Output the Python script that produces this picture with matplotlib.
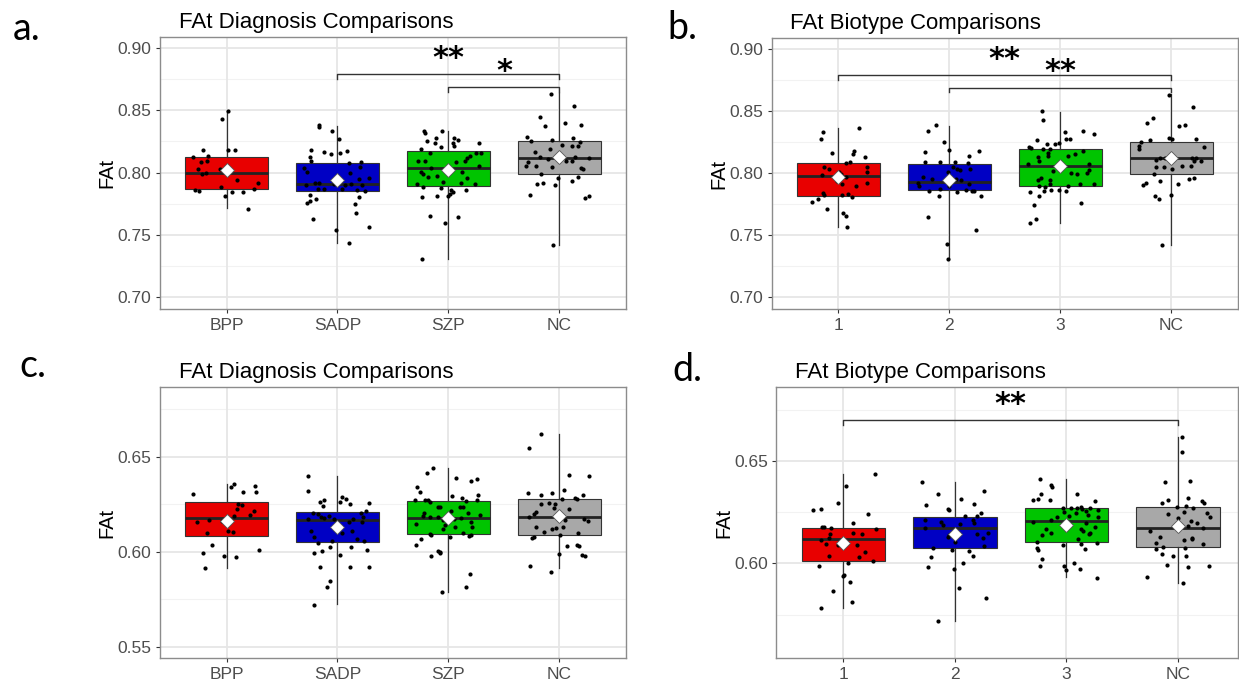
import matplotlib.pyplot as plt
import numpy as np

plt.rcParams['font.family'] = ['Liberation Sans', 'DejaVu Sans']

diag_cats = ['BPP', 'SADP', 'SZP', 'NC']
bio_cats = ['1', '2', '3', 'NC']
box_colors = ['#E80000', '#0000C4', '#00C400', '#A8A8A8']

# ---------------------------------------------------------------- panel a
a_q1 = [0.7866, 0.7852, 0.7895, 0.7992]
a_med = [0.7997, 0.7909, 0.8038, 0.8118]
a_q3 = [0.8126, 0.8078, 0.8175, 0.8253]
a_lo = [0.7715, 0.7433, 0.7304, 0.7419]
a_hi = [0.8497, 0.8376, 0.8336, 0.8637]
a_mean = [0.8022, 0.7938, 0.8022, 0.8124]

a_bpp_y = [0.8497, 0.8427, 0.8185, 0.818, 0.818, 0.8124, 0.8137, 0.8081, 0.8091, 0.8027,
           0.7992, 0.7997, 0.8027, 0.7941, 0.7919, 0.7863, 0.7852, 0.7884, 0.7847, 0.7847,
           0.7866, 0.7815, 0.7710]
a_bpp_jit = [0.015, -0.045, -0.21, 0.01, 0.08, -0.30, -0.17, -0.23, -0.18, -0.26,
             -0.22, -0.185, -0.055, 0.09, 0.28, -0.285, -0.25, -0.05, 0.05, 0.15,
             0.25, -0.015, 0.19]
a_sadp_y = [0.8379, 0.8366, 0.8336, 0.8272, 0.818, 0.8167, 0.8151, 0.8156, 0.8172, 0.8129,
            0.8091, 0.8078, 0.8081, 0.8035, 0.8046, 0.8005, 0.7997, 0.7949, 0.7957, 0.7901,
            0.7919, 0.7917, 0.7868, 0.7868, 0.7906, 0.7871, 0.7898, 0.7906, 0.7858, 0.7898,
            0.7852, 0.7804, 0.7817, 0.7758, 0.7769, 0.7790, 0.7745, 0.7677, 0.7626, 0.7559,
            0.7540, 0.7433]
a_sadp_jit = [-0.17, -0.17, -0.045, 0.015, -0.235, -0.12, -0.055, 0.025, 0.085, -0.25,
              -0.24, 0.105, 0.215, -0.30, 0.20, -0.275, 0.114, 0.195, 0.28, -0.285,
              -0.2, -0.165, -0.125, -0.18, -0.03, 0.045, 0.07, 0.12, 0.18, 0.22,
              0.245, 0.195, -0.25, -0.275, -0.25, -0.19, 0.16, 0.165, -0.225, 0.28,
              -0.01, 0.1]
a_szp_y = [0.8336, 0.8320, 0.8333, 0.8274, 0.8253, 0.8234, 0.8274, 0.8263, 0.8234, 0.8212,
           0.8202, 0.8239, 0.8191, 0.8159, 0.8159, 0.8159, 0.8134, 0.8113, 0.8089, 0.8089,
           0.8094, 0.8081, 0.8051, 0.8040, 0.8005, 0.7992, 0.7970, 0.7965, 0.7925, 0.7997,
           0.8008, 0.7952, 0.7917, 0.7911, 0.7911, 0.7884, 0.7874, 0.7858, 0.7844, 0.7831,
           0.7809, 0.7863, 0.7815, 0.7806, 0.7653, 0.7645, 0.7597, 0.7304]
a_szp_jit = [-0.22, -0.21, -0.06, -0.11, -0.19, -0.125, 0.05, 0.09, 0.045, 0.05,
             -0.07, 0.275, -0.25, -0.165, 0.25, 0.29, 0.19, 0.165, -0.27, -0.21,
             0.15, 0.065, 0.28, -0.16, -0.245, -0.23, -0.105, -0.185, -0.05, -0.005,
             0.12, 0.165, 0.11, 0.24, -0.28, -0.23, -0.07, 0.025, 0.045, 0.01,
             0.0, 0.16, -0.1, -0.235, -0.17, 0.085, -0.035, -0.235]
a_nc_y = [0.8632, 0.8535, 0.8449, 0.8376, 0.8398, 0.8384, 0.8282, 0.8253, 0.8261, 0.8280,
          0.8220, 0.8169, 0.8212, 0.8212, 0.8242, 0.8191, 0.8121, 0.8105, 0.8086, 0.8054,
          0.8054, 0.8043, 0.8094, 0.8094, 0.8126, 0.8040, 0.8118, 0.8027, 0.7992, 0.7960,
          0.7935, 0.7952, 0.7909, 0.7917, 0.7901, 0.7820, 0.7796, 0.7812, 0.7419]
a_nc_jit = [-0.075, 0.135, -0.175, -0.13, 0.055, 0.195, -0.29, -0.26, -0.07, 0.12,
            0.02, -0.22, 0.115, 0.17, 0.19, -0.08, -0.175, -0.1, -0.28, -0.3,
            -0.21, -0.07, 0.06, 0.115, 0.145, 0.195, 0.27, 0.21, -0.17, 0.17,
            0.11, -0.015, -0.205, -0.15, -0.04, -0.265, 0.235, 0.265, -0.06]

# ---------------------------------------------------------------- panel b
b_q1 = [0.7812, 0.7858, 0.7892, 0.7989]
b_med = [0.7970, 0.7925, 0.8054, 0.8116]
b_q3 = [0.8081, 0.8070, 0.8191, 0.8247]
b_lo = [0.7559, 0.7301, 0.7594, 0.7419]
b_hi = [0.8363, 0.8376, 0.8489, 0.8637]
b_mean = [0.7962, 0.7944, 0.8051, 0.8118]

b_g1_y = [0.8363, 0.8325, 0.8274, 0.8156, 0.8177, 0.8153, 0.8124, 0.8081, 0.8089, 0.8043,
          0.8030, 0.8048, 0.8003, 0.8005, 0.7989, 0.7981, 0.7962, 0.7935, 0.7909, 0.7919,
          0.7892, 0.7839, 0.7823, 0.7820, 0.7828, 0.7804, 0.7788, 0.7766, 0.7710, 0.7675,
          0.7651, 0.7559]
b_g1_jit = [0.19, -0.14, -0.16, -0.055, 0.145, 0.135, 0.24, 0.07, 0.11, -0.125,
            -0.08, 0.26, 0.26, 0.005, 0.025, -0.15, 0.07, -0.015, 0.035, 0.26,
            0.16, -0.135, -0.13, 0.035, 0.085, 0.12, -0.18, -0.235, -0.105, 0.045,
            0.07, 0.08]
b_g2_y = [0.8382, 0.8336, 0.8250, 0.8180, 0.8164, 0.8175, 0.8089, 0.8089, 0.8083, 0.8132,
          0.8078, 0.8046, 0.8030, 0.8024, 0.8032, 0.8005, 0.7965, 0.7946, 0.7919, 0.7946,
          0.7938, 0.7911, 0.7895, 0.7855, 0.7871, 0.7890, 0.7844, 0.7863, 0.7852, 0.7849,
          0.7815, 0.7812, 0.7642, 0.7540, 0.7427, 0.7301]
b_g2_jit = [-0.12, -0.19, -0.05, -0.005, -0.215, 0.265, -0.22, -0.085, 0.05, 0.18,
            0.17, 0.03, 0.065, 0.095, 0.185, -0.015, -0.24, -0.16, -0.28, 0.06,
            0.105, 0.175, -0.27, -0.185, -0.085, 0.0, 0.07, 0.15, 0.2, 0.225,
            0.285, -0.09, -0.195, 0.24, -0.025, -0.01]
b_g3_y = [0.8497, 0.8427, 0.8328, 0.8333, 0.8315, 0.8269, 0.8269, 0.8261, 0.8234, 0.8234,
          0.8239, 0.8207, 0.8202, 0.8188, 0.8188, 0.8172, 0.8156, 0.8153, 0.8126, 0.8132,
          0.8137, 0.8091, 0.8067, 0.8067, 0.8013, 0.7997, 0.7989, 0.7997, 0.8024, 0.7954,
          0.7944, 0.7938, 0.7911, 0.7909, 0.7909, 0.7890, 0.7887, 0.7895, 0.7852, 0.7863,
          0.7858, 0.7849, 0.7844, 0.7812, 0.7742, 0.7753, 0.7624, 0.7594]
b_g3_jit = [-0.165, -0.16, 0.04, 0.2, 0.3, 0.05, 0.085, -0.21, -0.12, -0.045,
            -0.01, -0.28, -0.265, -0.155, -0.09, 0.2, -0.11, 0.13, -0.2, -0.11,
            0.065, -0.19, -0.295, 0.26, -0.07, 0.1, 0.15, 0.24, 0.255, -0.175,
            -0.2, -0.09, -0.09, 0.175, 0.3, -0.19, -0.14, 0.065, -0.15, -0.085,
            -0.015, 0.05, -0.275, -0.19, -0.235, 0.19, -0.215, -0.27]
b_nc_y = [0.8629, 0.8532, 0.8441, 0.8398, 0.8374, 0.8382, 0.8277, 0.8274, 0.8274, 0.8250,
          0.8261, 0.8215, 0.8194, 0.8207, 0.8116, 0.8116, 0.8105, 0.8116, 0.8121, 0.8091,
          0.8097, 0.8046, 0.8048, 0.8030, 0.8054, 0.8054, 0.7987, 0.7946, 0.7954, 0.7933,
          0.7914, 0.7898, 0.7906, 0.7812, 0.7790, 0.7820, 0.7417]
b_nc_jit = [-0.02, 0.195, -0.17, -0.22, 0.07, 0.125, -0.025, 0.01, 0.225, -0.275,
            -0.19, -0.29, -0.295, 0.29, -0.1, -0.06, -0.135, 0.19, 0.225, 0.27,
            0.2, -0.135, -0.065, 0.01, 0.1, 0.175, -0.16, 0.16, 0.2, -0.1,
            -0.225, -0.255, 0.06, -0.15, -0.11, -0.005, -0.085]

# ---------------------------------------------------------------- panel c
c_q1 = [0.6081, 0.6049, 0.6095, 0.6086]
c_med = [0.6177, 0.6167, 0.6179, 0.6181]
c_q3 = [0.6263, 0.6211, 0.6267, 0.6279]
c_lo = [0.5912, 0.5725, 0.5788, 0.5912]
c_hi = [0.6354, 0.6400, 0.6439, 0.6619]
c_mean = [0.6163, 0.6130, 0.6175, 0.6189]

c_bpp_y = [0.6356, 0.6340, 0.6346, 0.6314, 0.6305, 0.6312, 0.6249, 0.6247, 0.6225, 0.6212,
           0.6195, 0.6186, 0.6158, 0.6168, 0.6160, 0.6107, 0.6102, 0.6096, 0.6033, 0.6009,
           0.5991, 0.5979, 0.5974, 0.5912]
c_bpp_jit = [0.07, 0.04, 0.255, 0.265, -0.3, 0.15, 0.1, 0.14, 0.09, 0.25,
             0.21, 0.07, -0.265, -0.16, -0.04, 0.015, 0.055, -0.175, -0.135, 0.29,
             -0.21, -0.025, 0.085, -0.19]
c_sadp_y = [0.6400, 0.6319, 0.6289, 0.6277, 0.6272, 0.6263, 0.6242, 0.6263, 0.6249, 0.6256,
            0.6202, 0.6198, 0.6189, 0.6205, 0.6184, 0.6216, 0.6184, 0.6179, 0.6172, 0.6170,
            0.6170, 0.6154, 0.6158, 0.6109, 0.6109, 0.6096, 0.6065, 0.6058, 0.6079, 0.6048,
            0.6056, 0.6026, 0.6025, 0.6002, 0.6011, 0.5995, 0.5982, 0.5920, 0.5918, 0.5918,
            0.5846, 0.5813, 0.5721]
c_sadp_jit = [-0.27, -0.265, 0.04, 0.08, -0.125, -0.16, -0.13, 0.025, 0.115, 0.28,
              -0.22, -0.175, -0.08, 0.21, 0.23, 0.26, -0.15, -0.125, -0.27, -0.03,
              0.14, 0.22, 0.1, -0.235, 0.135, 0.045, 0.18, 0.235, -0.215, -0.175,
              -0.05, -0.07, 0.125, -0.135, 0.27, -0.21, 0.025, -0.16, 0.11, 0.28,
              -0.065, -0.095, -0.215]
c_szp_y = [0.6440, 0.6416, 0.6388, 0.6374, 0.6381, 0.6342, 0.6314, 0.6293, 0.6298, 0.6274,
           0.6272, 0.6261, 0.6272, 0.6282, 0.6265, 0.6272, 0.6235, 0.6235, 0.6216, 0.6233,
           0.6233, 0.6205, 0.6205, 0.6188, 0.6184, 0.6181, 0.6167, 0.6170, 0.6175, 0.6193,
           0.6146, 0.6140, 0.6132, 0.6119, 0.6154, 0.6128, 0.6093, 0.6086, 0.6079, 0.6096,
           0.6082, 0.6088, 0.6065, 0.6037, 0.6005, 0.5991, 0.6000, 0.5979, 0.5884, 0.5816,
           0.5788]
c_szp_jit = [-0.135, -0.19, 0.065, 0.205, 0.26, -0.285, -0.26, 0.03, 0.27, -0.21,
             -0.185, -0.165, -0.3, 0.12, 0.16, 0.26, -0.095, -0.075, 0.025, 0.1,
             0.13, 0.18, -0.22, -0.23, -0.165, -0.09, -0.045, 0.05, 0.11, 0.285,
             -0.295, -0.035, 0.055, -0.05, 0.2, 0.215, -0.17, -0.16, 0.01, 0.13,
             0.185, 0.2, -0.25, -0.29, -0.09, -0.075, -0.08, -0.16, 0.195, 0.16,
             -0.06]
c_nc_y = [0.6619, 0.6546, 0.6404, 0.6400, 0.6325, 0.6311, 0.6307, 0.6296, 0.6300, 0.6275,
          0.6281, 0.6275, 0.6254, 0.6249, 0.6249, 0.6228, 0.6226, 0.6207, 0.6200, 0.6184,
          0.6170, 0.6161, 0.6167, 0.6132, 0.6132, 0.6121, 0.6123, 0.6104, 0.6098, 0.6086,
          0.6079, 0.6074, 0.6030, 0.6037, 0.6030, 0.5986, 0.5984, 0.5979, 0.5923, 0.5895]
c_nc_jit = [-0.165, -0.275, 0.09, 0.27, 0.04, -0.07, -0.285, -0.17, 0.21, 0.025,
            0.14, 0.155, -0.09, -0.04, -0.165, -0.045, 0.085, -0.21, -0.225, -0.275,
            0.225, 0.255, 0.05, -0.215, 0.03, -0.065, -0.03, -0.14, 0.17, 0.005,
            -0.23, -0.25, 0.07, 0.16, 0.175, 0.0, 0.2, 0.23, -0.265, -0.075]

# ---------------------------------------------------------------- panel d
d_q1 = [0.6011, 0.6075, 0.6103, 0.6081]
d_med = [0.6119, 0.6171, 0.6205, 0.6174]
d_q3 = [0.6174, 0.6226, 0.6269, 0.6274]
d_lo = [0.5780, 0.5717, 0.5935, 0.5906]
d_hi = [0.6435, 0.6397, 0.6410, 0.6616]
d_mean = [0.6101, 0.6145, 0.6189, 0.6184]

d_g1_y = [0.6438, 0.6378, 0.6295, 0.6261, 0.6267, 0.6243, 0.6199, 0.6178, 0.6178, 0.6174,
          0.6166, 0.6150, 0.6143, 0.6143, 0.6122, 0.6114, 0.6093, 0.6088, 0.6091, 0.6057,
          0.6037, 0.6029, 0.6013, 0.6003, 0.5987, 0.5940, 0.5941, 0.5909, 0.5867, 0.5809,
          0.5780]
d_g1_jit = [0.285, 0.025, -0.05, -0.27, -0.205, 0.225, 0.085, -0.195, -0.175, -0.115,
            0.295, 0.09, 0.17, -0.12, -0.125, -0.205, -0.16, -0.05, 0.12, 0.195,
            -0.13, 0.14, 0.265, 0.04, -0.215, -0.005, 0.005, 0.06, -0.09, 0.08,
            -0.205]
d_g2_y = [0.6399, 0.6337, 0.6353, 0.6313, 0.6285, 0.6290, 0.6265, 0.6261, 0.6233, 0.6231,
          0.6244, 0.6212, 0.6200, 0.6187, 0.6192, 0.6213, 0.6195, 0.6171, 0.6130, 0.6140,
          0.6103, 0.6143, 0.6150, 0.6124, 0.6086, 0.6073, 0.6065, 0.6060, 0.6037, 0.6029,
          0.6000, 0.5982, 0.5974, 0.5878, 0.5832, 0.5717]
d_g2_jit = [-0.295, -0.15, 0.265, 0.055, -0.255, 0.17, -0.06, -0.055, 0.09, 0.2,
            0.235, -0.265, -0.12, -0.11, 0.05, 0.165, 0.175, -0.265, -0.06, -0.05,
            0.0, 0.2, 0.295, 0.25, 0.265, -0.195, -0.03, 0.13, 0.16, -0.215,
            0.07, -0.24, -0.01, 0.04, 0.275, -0.15]
d_g3_y = [0.6414, 0.6384, 0.6371, 0.6339, 0.6340, 0.6309, 0.6316, 0.6311, 0.6303, 0.6272,
          0.6269, 0.6270, 0.6277, 0.6265, 0.6257, 0.6269, 0.6261, 0.6251, 0.6231, 0.6248,
          0.6236, 0.6228, 0.6228, 0.6212, 0.6200, 0.6199, 0.6179, 0.6168, 0.6169, 0.6160,
          0.6148, 0.6138, 0.6150, 0.6143, 0.6119, 0.6106, 0.6091, 0.6094, 0.6098, 0.6077,
          0.6064, 0.6072, 0.6021, 0.6003, 0.5985, 0.5987, 0.5967, 0.5971, 0.5930]
d_g3_jit = [-0.235, -0.135, -0.125, 0.1, -0.23, -0.3, -0.25, -0.15, 0.26, -0.03,
            0.045, 0.095, 0.135, 0.14, 0.18, 0.215, 0.285, -0.025, 0.02, 0.09,
            0.19, 0.285, -0.085, -0.135, -0.3, 0.18, 0.26, -0.18, 0.13, 0.15,
            -0.14, -0.22, 0.215, 0.205, 0.105, -0.26, -0.03, 0.135, 0.275, -0.26,
            -0.25, 0.17, -0.22, 0.065, -0.24, -0.02, -0.005, 0.125, 0.275]
d_nc_y = [0.6617, 0.6546, 0.6397, 0.6401, 0.6321, 0.6308, 0.6296, 0.6306, 0.6295, 0.6275,
          0.6280, 0.6270, 0.6239, 0.6249, 0.6244, 0.6221, 0.6205, 0.6197, 0.6225, 0.6182,
          0.6173, 0.6158, 0.6129, 0.6125, 0.6117, 0.6114, 0.6101, 0.6081, 0.6094, 0.6070,
          0.6047, 0.6037, 0.6037, 0.6073, 0.5992, 0.5984, 0.5989, 0.5933, 0.5906]
d_nc_jit = [0.035, 0.04, -0.115, 0.105, 0.095, -0.085, -0.145, 0.22, 0.235, -0.005,
            0.075, 0.14, -0.085, 0.055, 0.26, 0.005, 0.12, 0.17, 0.285, 0.09,
            0.225, -0.25, -0.16, 0.13, 0.13, 0.06, -0.2, -0.13, 0.23, -0.2,
            -0.145, -0.04, 0.075, 0.065, -0.1, 0.095, 0.28, -0.275, 0.045]

# significance brackets: (left group, right group, bracket y, label)
a_sig = [(2, 4, 0.8790, '**'), (3, 4, 0.8686, '*')]
b_sig = [(1, 4, 0.8787, '**'), (2, 4, 0.8686, '**')]
d_sig = [(1, 4, 0.6700, '**')]


def draw_panel(ax, cats, q1, med, q3, lo, hi, mean, groups, sig, ylim, yticks,
               xlim, title, tick_drop):
    pos = np.arange(1, len(cats) + 1)
    ax.set_xlim(*xlim)
    ax.set_ylim(*ylim)

    # grid like ggplot theme_bw
    step = yticks[1] - yticks[0]
    minors = [yticks[0] - step / 2] + [t + step / 2 for t in yticks]
    for m in minors:
        ax.axhline(m, color='#F2F2F2', lw=0.8, zorder=0)
    for t in yticks:
        ax.axhline(t, color='#E6E6E6', lw=1.3, zorder=0)
    for p in pos:
        ax.axvline(p, color='#E6E6E6', lw=1.3, zorder=0)

    stats = []
    for i in range(len(cats)):
        stats.append(dict(med=med[i], q1=q1[i], q3=q3[i],
                          whislo=lo[i], whishi=hi[i], fliers=[]))
    bp = ax.bxp(stats, positions=pos, widths=0.75, patch_artist=True,
                showcaps=False, showfliers=False,
                boxprops=dict(edgecolor='#333333', linewidth=0.8),
                medianprops=dict(color='#222222', linewidth=2.0),
                whiskerprops=dict(color='#333333', linewidth=0.9))
    for patch, col in zip(bp['boxes'], box_colors):
        patch.set_facecolor(col)
        patch.set_zorder(2)
    for line in bp['medians']:
        line.set_zorder(3)

    for i, (ys, jit) in enumerate(groups):
        ax.scatter(pos[i] + np.array(jit), ys, s=9, color='black',
                   linewidths=0, zorder=4)

    ax.plot(pos, mean, linestyle='none', marker='D', markersize=7,
            markerfacecolor='white', markeredgecolor='#555555',
            markeredgewidth=0.6, zorder=5)

    for g1, g2, yb, lab in sig:
        ax.plot([g1, g1, g2, g2], [yb - tick_drop, yb, yb, yb - tick_drop],
                color='#333333', lw=1.0, zorder=6)
        ax.annotate(lab, xy=((g1 + g2) / 2, yb), xytext=(0, 1),
                    textcoords='offset points', ha='center', va='bottom',
                    fontsize=22, fontweight='bold', family='DejaVu Sans',
                    color='black')

    ax.set_xticks(pos)
    ax.set_xticklabels(cats)
    ax.set_yticks(yticks)
    ax.set_yticklabels(['%.2f' % t for t in yticks])
    ax.tick_params(axis='both', colors='#333333', length=3, width=0.8,
                   labelsize=12.5, labelcolor='#4D4D4D', pad=3)
    ax.set_ylabel('FAt', fontsize=14.5, color='black', labelpad=1)
    for s in ax.spines.values():
        s.set_color('#8C8C8C')
        s.set_linewidth(1.0)
    ax.text(0.04, 1.015, title, transform=ax.transAxes, ha='left',
            va='bottom', fontsize=16, color='black')


fig = plt.figure(figsize=(12.39, 6.8), dpi=100)

ax_a = fig.add_axes([0.1291, 0.5451, 0.3761, 0.4009])
ax_b = fig.add_axes([0.6228, 0.5451, 0.3764, 0.3990])
ax_c = fig.add_axes([0.1291, 0.0319, 0.3761, 0.3994])
ax_d = fig.add_axes([0.6267, 0.0319, 0.3725, 0.3985])

draw_panel(ax_a, diag_cats, a_q1, a_med, a_q3, a_lo, a_hi, a_mean,
           [(a_bpp_y, a_bpp_jit), (a_sadp_y, a_sadp_jit),
            (a_szp_y, a_szp_jit), (a_nc_y, a_nc_jit)],
           a_sig, (0.6899, 0.9093), [0.70, 0.75, 0.80, 0.85, 0.90],
           (0.4, 4.6), 'FAt Diagnosis Comparisons', 0.004)
draw_panel(ax_b, bio_cats, b_q1, b_med, b_q3, b_lo, b_hi, b_mean,
           [(b_g1_y, b_g1_jit), (b_g2_y, b_g2_jit),
            (b_g3_y, b_g3_jit), (b_nc_y, b_nc_jit)],
           b_sig, (0.6899, 0.9085), [0.70, 0.75, 0.80, 0.85, 0.90],
           (0.4, 4.6), 'FAt Biotype Comparisons', 0.004)
draw_panel(ax_c, diag_cats, c_q1, c_med, c_q3, c_lo, c_hi, c_mean,
           [(c_bpp_y, c_bpp_jit), (c_sadp_y, c_sadp_jit),
            (c_szp_y, c_szp_jit), (c_nc_y, c_nc_jit)],
           [], (0.5439, 0.6868), [0.55, 0.60, 0.65],
           (0.4, 4.6), 'FAt Diagnosis Comparisons', 0.0025)
draw_panel(ax_d, bio_cats, d_q1, d_med, d_q3, d_lo, d_hi, d_mean,
           [(d_g1_y, d_g1_jit), (d_g2_y, d_g2_jit),
            (d_g3_y, d_g3_jit), (d_nc_y, d_nc_jit)],
           d_sig, (0.5536, 0.6860), [0.60, 0.65],
           (0.4, 4.54), 'FAt Biotype Comparisons', 0.0025)

# panel letters
for lab, x, y in [('a.', 0.010, 0.941), ('b.', 0.539, 0.943),
                  ('c.', 0.016, 0.445), ('d.', 0.543, 0.440)]:
    fig.text(x, y, lab, fontsize=27, family=['Lato', 'DejaVu Sans'],
             ha='left', va='baseline', color='black')

fig.savefig('out.png', dpi=100)
